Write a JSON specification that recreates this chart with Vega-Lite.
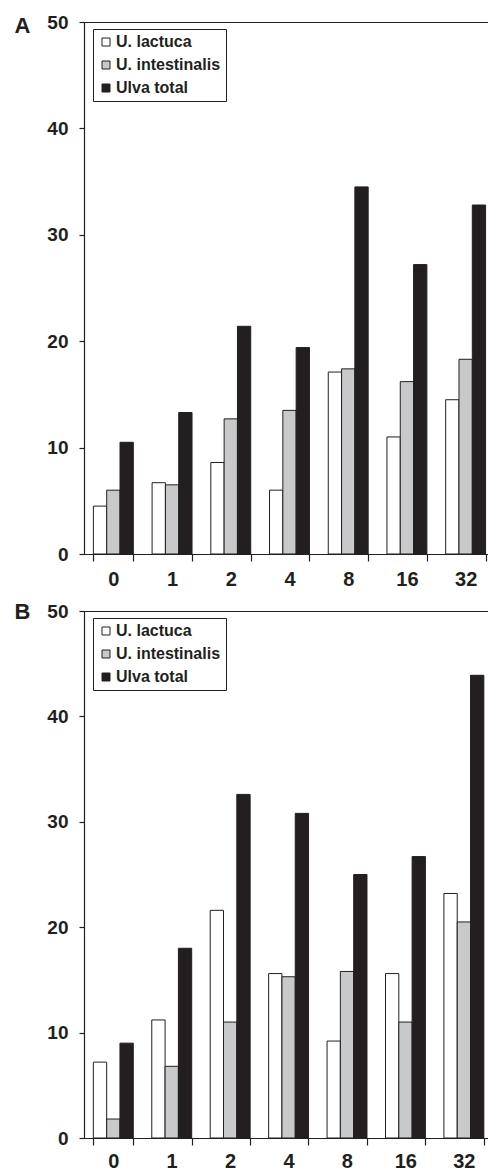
{
  "$schema": "https://vega.github.io/schema/vega-lite/v6.json",
  "padding": {"left": 13, "top": 12, "right": -6, "bottom": 0},
  "background": "white",
  "config": {
    "font": "Liberation Sans",
    "view": {"stroke": "#231f20", "strokeWidth": 1},
    "axis": {
      "domainColor": "#231f20", "tickColor": "#231f20", "labelColor": "#231f20",
      "titleColor": "#231f20", "labelFont": "Liberation Sans", "labelFontWeight": "bold",
      "titleFont": "Liberation Sans", "grid": false, "domainWidth": 1.2, "tickWidth": 1.2
    },
    "legend": {
      "strokeColor": "#231f20", "fillColor": "white", "padding": 5,
      "symbolType": "square", "symbolSize": 64, "symbolStrokeColor": "#231f20",
      "symbolStrokeWidth": 1, "labelFont": "Liberation Sans", "labelFontWeight": "bold",
      "labelFontSize": 16, "labelColor": "#231f20", "labelOffset": 2, "rowPadding": 7
    },
    "concat": {"spacing": 9}
  },
  "datasets": {
    "a": [
      {"dose": 0, "species": "U. lactuca", "value": 4.5},
      {"dose": 0, "species": "U. intestinalis", "value": 6.0},
      {"dose": 0, "species": "Ulva total", "value": 10.5},
      {"dose": 1, "species": "U. lactuca", "value": 6.7},
      {"dose": 1, "species": "U. intestinalis", "value": 6.5},
      {"dose": 1, "species": "Ulva total", "value": 13.3},
      {"dose": 2, "species": "U. lactuca", "value": 8.6},
      {"dose": 2, "species": "U. intestinalis", "value": 12.7},
      {"dose": 2, "species": "Ulva total", "value": 21.4},
      {"dose": 4, "species": "U. lactuca", "value": 6.0},
      {"dose": 4, "species": "U. intestinalis", "value": 13.5},
      {"dose": 4, "species": "Ulva total", "value": 19.4},
      {"dose": 8, "species": "U. lactuca", "value": 17.1},
      {"dose": 8, "species": "U. intestinalis", "value": 17.4},
      {"dose": 8, "species": "Ulva total", "value": 34.5},
      {"dose": 16, "species": "U. lactuca", "value": 11.0},
      {"dose": 16, "species": "U. intestinalis", "value": 16.2},
      {"dose": 16, "species": "Ulva total", "value": 27.2},
      {"dose": 32, "species": "U. lactuca", "value": 14.5},
      {"dose": 32, "species": "U. intestinalis", "value": 18.3},
      {"dose": 32, "species": "Ulva total", "value": 32.8}
    ],
    "b": [
      {"dose": 0, "species": "U. lactuca", "value": 7.2},
      {"dose": 0, "species": "U. intestinalis", "value": 1.8},
      {"dose": 0, "species": "Ulva total", "value": 9.0},
      {"dose": 1, "species": "U. lactuca", "value": 11.2},
      {"dose": 1, "species": "U. intestinalis", "value": 6.8},
      {"dose": 1, "species": "Ulva total", "value": 18.0},
      {"dose": 2, "species": "U. lactuca", "value": 21.6},
      {"dose": 2, "species": "U. intestinalis", "value": 11.0},
      {"dose": 2, "species": "Ulva total", "value": 32.6},
      {"dose": 4, "species": "U. lactuca", "value": 15.6},
      {"dose": 4, "species": "U. intestinalis", "value": 15.3},
      {"dose": 4, "species": "Ulva total", "value": 30.8},
      {"dose": 8, "species": "U. lactuca", "value": 9.2},
      {"dose": 8, "species": "U. intestinalis", "value": 15.8},
      {"dose": 8, "species": "Ulva total", "value": 25.0},
      {"dose": 16, "species": "U. lactuca", "value": 15.6},
      {"dose": 16, "species": "U. intestinalis", "value": 11.0},
      {"dose": 16, "species": "Ulva total", "value": 26.7},
      {"dose": 32, "species": "U. lactuca", "value": 23.2},
      {"dose": 32, "species": "U. intestinalis", "value": 20.5},
      {"dose": 32, "species": "Ulva total", "value": 43.9}
    ]
  },
  "resolve": {"scale": {"fill": "independent"}, "legend": {"fill": "independent"}},
  "vconcat": [
    {
      "width": 411, "height": 532,
      "data": {"name": "a"},
      "mark": {"type": "bar", "stroke": "#231f20", "strokeWidth": 1},
      "encoding": {
        "x": {"field": "dose", "type": "ordinal",
          "scale": {"paddingInner": 0.32, "paddingOuter": 0.16},
          "axis": {"title": null, "labelAngle": 0, "tickBand": "extent", "tickSize": 7, "labelPadding": 8, "labelFontSize": 20}},
        "xOffset": {"field": "species", "type": "nominal", "sort": ["U. lactuca", "U. intestinalis", "Ulva total"],
          "scale": {"paddingInner": 0, "paddingOuter": 0}},
        "y": {"field": "value", "type": "quantitative",
          "scale": {"domain": [0, 50], "nice": false},
          "axis": {"values": [0, 10, 20, 30, 40, 50], "title": "A", "titleAngle": 0, "titleAlign": "left",
            "titleBaseline": "alphabetic", "titleX": -70, "titleY": 10, "titleFontSize": 22, "titleFontWeight": "bold",
            "tickSize": 5, "labelPadding": 11, "labelFontSize": 19}},
        "fill": {"field": "species", "type": "nominal", "sort": ["U. lactuca", "U. intestinalis", "Ulva total"],
          "scale": {"domain": ["U. lactuca", "U. intestinalis", "Ulva total"], "range": ["#ffffff", "#c8c9cb", "#231f20"]},
          "legend": {"title": null, "orient": "none", "legendX": 9, "legendY": 7}}
      }
    },
    {
      "width": 409, "height": 527,
      "data": {"name": "b"},
      "mark": {"type": "bar", "stroke": "#231f20", "strokeWidth": 1},
      "encoding": {
        "x": {"field": "dose", "type": "ordinal",
          "scale": {"paddingInner": 0.32, "paddingOuter": 0.16},
          "axis": {"title": null, "labelAngle": 0, "tickBand": "extent", "tickSize": 7, "labelPadding": 6, "labelFontSize": 20}},
        "xOffset": {"field": "species", "type": "nominal", "sort": ["U. lactuca", "U. intestinalis", "Ulva total"],
          "scale": {"paddingInner": 0, "paddingOuter": 0}},
        "y": {"field": "value", "type": "quantitative",
          "scale": {"domain": [0, 50], "nice": false},
          "axis": {"values": [0, 10, 20, 30, 40, 50], "title": "B", "titleAngle": 0, "titleAlign": "left",
            "titleBaseline": "alphabetic", "titleX": -70, "titleY": 7, "titleFontSize": 22, "titleFontWeight": "bold",
            "tickSize": 5, "labelPadding": 11, "labelFontSize": 19}},
        "fill": {"field": "species", "type": "nominal", "sort": ["U. lactuca", "U. intestinalis", "Ulva total"],
          "scale": {"domain": ["U. lactuca", "U. intestinalis", "Ulva total"], "range": ["#ffffff", "#c8c9cb", "#231f20"]},
          "legend": {"title": null, "orient": "none", "legendX": 9, "legendY": 7}}
      }
    }
  ]
}
